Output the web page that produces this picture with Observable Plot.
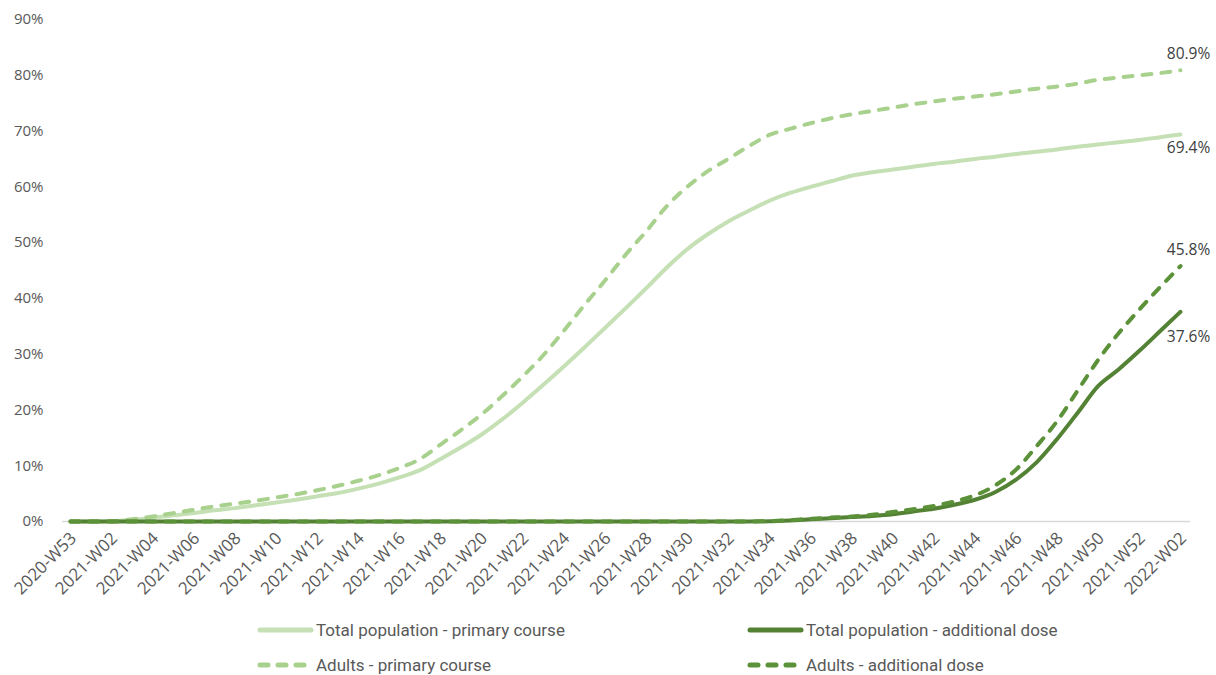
<!DOCTYPE html>
<html>
<head>
<meta charset="utf-8">
<script src="https://cdn.jsdelivr.net/npm/d3@7"></script>
<script src="https://cdn.jsdelivr.net/npm/@observablehq/plot@0.6"></script>
<style>
  html, body { margin: 0; padding: 0; background: #fff; }
  #wrap { position: relative; width: 1216px; height: 675px; overflow: hidden; }
  #legend { position: absolute; left: 0; top: 0; width: 1216px; height: 675px; pointer-events: none; }
  .item { position: absolute; display: flex; align-items: center; font-family: "Liberation Sans Narrow", "Roboto", "Liberation Sans", sans-serif; font-size: 17px; color: #595959; white-space: nowrap; }
  .item svg { margin-right: 2px; }
</style>
</head>
<body>
<div id="wrap">
  <div id="chart"></div>
  <div id="legend"></div>
</div>
<script>
// Week categories
const weeks = ["2020-W53"];
for (let k = 1; k <= 52; k++) weeks.push("2021-W" + String(k).padStart(2, "0"));
weeks.push("2022-W01", "2022-W02");

// Tick labels (every other week)
const tickWeeks = weeks.filter((d, i) => i % 2 === 0);

// Series values (percent)
const totalPrimary = [0,0,0.05,0.3,0.7,1.1,1.5,2.0,2.4,2.9,3.4,3.9,4.5,5.1,5.9,6.8,7.9,9.2,11.2,13.3,15.6,18.3,21.3,24.5,27.8,31.2,34.7,38.2,41.8,45.5,48.8,51.5,53.8,55.7,57.5,58.9,60.0,61.0,62.0,62.6,63.1,63.6,64.1,64.5,65.0,65.4,65.9,66.3,66.7,67.2,67.6,68.0,68.4,68.9,69.4];
const adultsPrimary = [0,0,0.05,0.4,0.9,1.5,2.1,2.7,3.2,3.7,4.3,4.9,5.6,6.4,7.3,8.3,9.6,11.2,13.8,16.4,19.2,22.5,26.0,29.8,34.2,38.8,43.2,47.8,52.0,56.5,60.0,62.8,65.0,67.3,69.3,70.4,71.4,72.3,73.0,73.6,74.2,74.8,75.3,75.8,76.2,76.6,77.1,77.6,78.0,78.5,79.2,79.6,80.0,80.4,80.9];
const totalAdditional = [0,0,0,0,0,0,0,0,0,0,0,0,0,0,0,0,0,0,0,0,0,0,0,0,0,0,0,0,0,0,0,0,0,0,0.05,0.2,0.4,0.6,0.8,1.0,1.3,1.8,2.3,3.0,3.9,5.3,7.5,10.6,14.8,19.5,24.3,27.3,30.6,34.1,37.6];
const adultsAdditional = [0,0,0,0,0,0,0,0,0,0,0,0,0,0,0,0,0,0,0,0,0,0,0,0,0,0,0,0,0,0,0,0,0,0,0.05,0.25,0.5,0.7,0.9,1.2,1.7,2.2,2.8,3.6,4.7,6.5,9.3,13.5,18.0,23.5,29.0,33.8,38.0,42.0,45.8];

const seriesNames = ["Total population - primary course", "Adults - primary course", "Total population - additional dose", "Adults - additional dose"];
const seriesValues = [totalPrimary, adultsPrimary, totalAdditional, adultsAdditional];
const seriesColors = ["#c5e0b4", "#a9d18e", "#548235", "#5b9138"];
const seriesDash = [null, "9,10", null, "9,10"];

const rows = [];
seriesNames.forEach((name, s) => {
  seriesValues[s].forEach((v, i) => rows.push({series: name, week: weeks[i], value: v / 100}));
});

const lastLabels = seriesNames.map((name, s) => ({
  series: name,
  week: weeks[weeks.length - 1],
  value: seriesValues[s][seriesValues[s].length - 1] / 100
}));
const labelDy = [14, -16, 25, -16];

const marks = [
  Plot.ruleY([0], {stroke: "#d9d9d9", strokeWidth: 1.5, insetLeft: -8, insetRight: -10})
];
seriesNames.forEach((name, s) => {
  marks.push(Plot.line(rows.filter(r => r.series === name), {
    x: "week", y: "value",
    stroke: seriesColors[s], strokeWidth: 4,
    strokeDasharray: seriesDash[s] || undefined,
    strokeLinecap: "round", strokeLinejoin: "round",
    curve: "monotone-x"
  }));
});
seriesNames.forEach((name, s) => {
  marks.push(Plot.text([lastLabels[s]], {
    x: "week", y: "value",
    text: d => (d.value * 100).toFixed(1) + "%",
    dx: 8, dy: labelDy[s],
    fill: "#404040", fontSize: 15.5, textAnchor: "middle",
    fontFamily: "Open Sans, sans-serif"
  }));
});

const chart = Plot.plot({
  width: 1216,
  height: 610,
  marginTop: 19,
  marginBottom: 89,
  marginLeft: 70,
  marginRight: 36,
  style: {fontFamily: "Open Sans, sans-serif", fontSize: "15px", color: "#595959", background: "#fff"},
  x: {type: "point", domain: weeks, padding: 0},
  y: {domain: [0, 0.9]},
  marks: [
    Plot.axisY({ticks: d3.range(0, 0.91, 0.1), tickFormat: d => Math.round(d * 100) + "%", tickSize: 0, tickPadding: 27, label: null, fill: "#595959", fontSize: 15}),
    Plot.axisX({ticks: tickWeeks, tickSize: 0, tickPadding: 8, dy: 6, dx: 3, tickRotate: -45, label: null, fill: "#595959", fontSize: 17}),
    ...marks
  ]
});
document.getElementById("chart").appendChild(chart);

// Legend
const legend = document.getElementById("legend");
const legendPos = [[256, 630], [256, 665], [746, 630], [746, 665]];
seriesNames.forEach((name, s) => {
  const div = document.createElement("div");
  div.className = "item";
  div.style.left = legendPos[s][0] + "px";
  div.style.top = (legendPos[s][1] - 11) + "px";
  const dash = seriesDash[s] ? ' stroke-dasharray="8,10"' : "";
  div.innerHTML = `<svg width="58" height="22"><line x1="4" y1="11" x2="55" y2="11" stroke="${seriesColors[s]}" stroke-width="5" stroke-linecap="round"${dash}/></svg><span>${name}</span>`;
  legend.appendChild(div);
});
</script>
</body>
</html>
